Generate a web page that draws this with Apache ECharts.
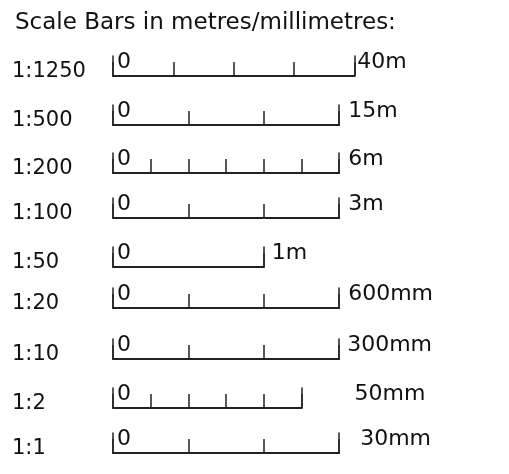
<!DOCTYPE html>
<html>
<head>
<meta charset="utf-8">
<script src="https://cdn.jsdelivr.net/npm/echarts@6/dist/echarts.min.js"></script>
<style>
html,body{margin:0;padding:0;background:#fff;}
#main{width:509px;height:474px;}
</style>
</head>
<body>
<div id="main"></div>
<script>
// scale bars: one row per drawing scale
var rowLabels=['1:1250','1:500','1:200','1:100','1:50','1:20','1:10','1:2','1:1'];
var scales=[1250,500,200,100,50,20,10,2,1];
var barMax=[40,15,6,3,1,600,300,50,30];
var tickStep=[10,5,1,1,1,200,100,10,10];
var units=['m','m','m','m','m','mm','mm','mm','mm'];

// layout (pixels)
var baseY=[76,125,173,218,267,308,359,408,453];
var nameGap=[3,9,9,9,8,9,8,53,21];
var PX_PER_MM=7.54;
var LEFT=113;
var END_H=20;

var FONT='DejaVu Sans';
var INK='#111';

function paperMm(i)
{
    var mm=units[i]=='m' ? barMax[i]*1000 : barMax[i];
    return mm/scales[i];
}

var grids=[],xAxes=[],yAxes=[];
for(var i=0;i<rowLabels.length;i++)
{
    grids.push({
        left:LEFT,
        top:baseY[i]-END_H,
        width:paperMm(i)*PX_PER_MM,
        height:END_H,
        containLabel:false,
        outerBoundsMode:'none'
    });
    xAxes.push({
        gridIndex:i,
        type:'value',
        min:0,
        max:barMax[i],
        interval:tickStep[i],
        name:barMax[i]+units[i],
        nameLocation:'end',
        nameGap:nameGap[i],
        nameMoveOverlap:false,
        nameTextStyle:{fontFamily:FONT,fontSize:22,color:INK,align:'left',verticalAlign:'bottom',padding:[0,0,3,0]},
        axisLine:{show:true,onZero:false,lineStyle:{color:'#222',width:2}},
        axisTick:{show:true,inside:true,length:14,lineStyle:{color:'#222',width:1.5}},
        splitLine:{show:false},
        axisLabel:{
            show:true,inside:true,margin:3,
            align:'left',verticalAlign:'bottom',padding:[0,0,0,4],
            fontFamily:FONT,fontSize:22,color:INK,
            formatter:function(v){return v===0?'0':'';}
        }
    });
    // left end tick + row label
    yAxes.push({
        gridIndex:i,
        type:'category',
        data:[rowLabels[i]],
        position:'left',
        axisLine:{show:true,onZero:false,lineStyle:{color:'#222',width:1.5}},
        axisTick:{show:false},
        splitLine:{show:false},
        axisLabel:{
            show:true,margin:LEFT-12,align:'left',verticalAlign:'top',
            lineHeight:12,
            fontFamily:FONT,fontSize:21,color:INK
        }
    });
    // right end tick
    yAxes.push({
        gridIndex:i,
        type:'value',
        min:0,max:1,
        position:'right',
        axisLine:{show:true,onZero:false,lineStyle:{color:'#222',width:1.5}},
        axisTick:{show:false},
        axisLabel:{show:false},
        splitLine:{show:false}
    });
}

var myChart=echarts.init(document.getElementById('main'),null,{renderer:'canvas'});
var option={
    backgroundColor:'#fff',
    animation:false,
    title:{
        text:'Scale Bars in metres/millimetres:',
        left:10,
        top:7,
        textStyle:{fontFamily:FONT,fontSize:23,fontWeight:'normal',color:INK}
    },
    grid:grids,
    xAxis:xAxes,
    yAxis:yAxes,
    series:[]
};
myChart.setOption(option);
</script>
</body>
</html>
